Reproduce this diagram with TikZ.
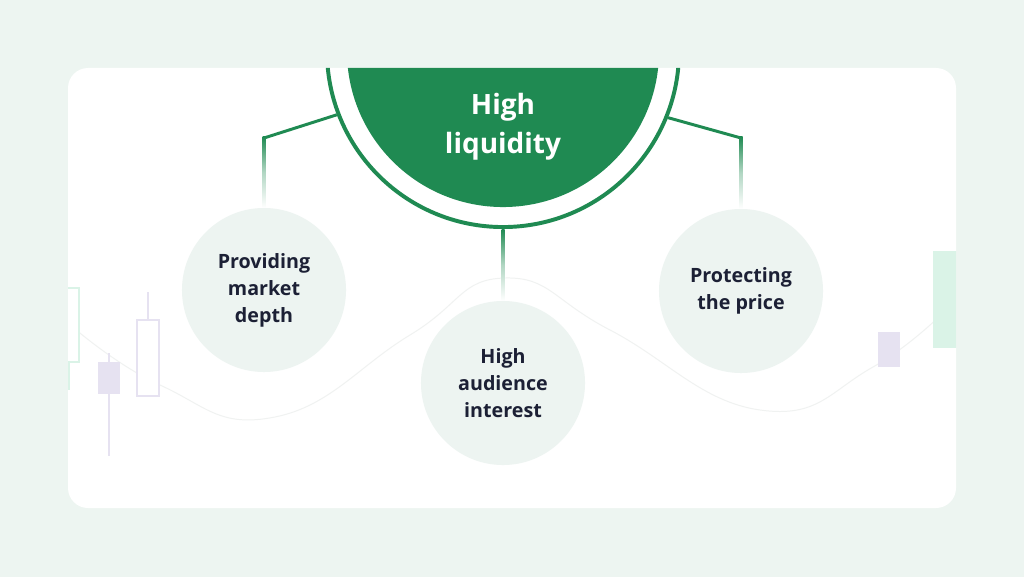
\documentclass[tikz,border=0pt]{standalone}
\usepackage{fontspec}
\setmainfont{Open Sans}
\usepackage{xcolor}
\definecolor{LiqGreen}{HTML}{1F8A52}
\definecolor{PageMint}{HTML}{EDF5F1}
\definecolor{BubbleMint}{HTML}{EDF4F1}
\definecolor{InkNavy}{HTML}{1C2035}
\definecolor{WaveGrey}{HTML}{F0F2F1}
\definecolor{CandleLilac}{HTML}{E6E2F1}
\definecolor{CandleMint}{HTML}{DAF3E7}
\usetikzlibrary{positioning, calc}
\tikzstyle{bubble} = [circle, fill=BubbleMint, text=InkNavy, minimum size=4.1cm, inner sep=0pt, align=center, font=\bfseries\fontsize{14}{19.2}\selectfont]
\tikzstyle{core} = [circle, fill=LiqGreen, minimum size=7.8cm, inner sep=0pt]
\tikzstyle{ring} = [circle, draw=LiqGreen, line width=2.8pt, minimum size=8.8cm, inner sep=0pt]
\tikzstyle{conn} = [color=LiqGreen, line width=2.1pt]
\tikzstyle{fadeconn} = [top color=LiqGreen, bottom color=white, middle color=LiqGreen!35, draw=none]
\tikzstyle{candle} = [line width=0.8pt]

\begin{document}
\begin{tikzpicture}[x=0.025cm, y=-0.025cm]
        \useasboundingbox (0,0) rectangle (1024,577);
        \fill[PageMint] (0,0) rectangle (1024,577);
        \fill[white, rounded corners=0.5cm] (68,68) rectangle (956,508);

        \begin{scope}
        \clip[rounded corners=0.5cm] (68,68) rectangle (956,508);

        % background chart
        \draw[WaveGrey, line width=0.7pt] plot[smooth, tension=0.8] coordinates {(68,323) (160,385) (275,417) (410,335) (505,278) (610,330) (760,410) (873,367) (956,300)};
        \draw[candle, draw=CandleMint, fill=white] (62,288) rectangle (79,362);
        \draw[candle, CandleMint] (69,362) -- (69,390);
        \draw[candle, CandleLilac] (109,353) -- (109,456);
        \fill[CandleLilac] (98,362) rectangle (120,394);
        \draw[candle, CandleLilac] (148,292) -- (148,320);
        \draw[candle, draw=CandleLilac, fill=white] (137,320) rectangle (159,396);
        \fill[CandleLilac] (878,332) rectangle (900,367);
        \fill[CandleMint] (933,251) rectangle (960,348);

        % main circle
        \node [ring] (ring) at (503,51) {};
        \node [core] (core) at (503,51) {};
        \node [text=white, align=center, font=\bfseries\fontsize{19.9}{27.7}\selectfont] (title) at (503,127) {High\\liquidity};
        \end{scope}

        \node [bubble] (depth) at (264,290) {Providing\\market\\depth};
        \node [bubble] (interest) at (503,383) {High\\audience\\interest};
        \node [bubble] (price) at (741,291) {Protecting\\the price};

        \coordinate (elbowL) at (264,138);
        \coordinate (elbowR) at (741,138);

        % Connect nodes
        \draw [conn] (ring.201.7) -- (elbowL);
        \draw [conn] (ring.338.3) -- (elbowR);
        \shade [fadeconn] ($(elbowL)+(-1.5,-1.5)$) rectangle ($(depth.north)+(1.5,0)$);
        \shade [fadeconn] ($(elbowR)+(-1.5,-1.5)$) rectangle ($(price.north)+(1.5,0)$);
        \shade [fadeconn] ($(ring.south)+(-1.5,0)$) rectangle ($(interest.north)+(1.5,0)$);
    \end{tikzpicture}
\end{document}
